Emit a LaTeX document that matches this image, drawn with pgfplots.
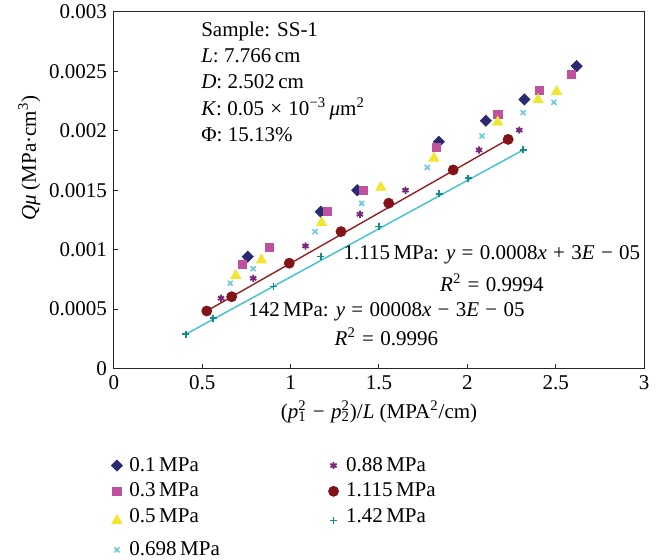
\documentclass[border=0pt]{standalone}
\usepackage{fontspec}
\setmainfont{Liberation Serif}
\usepackage{pgfplots}
\pgfplotsset{compat=1.18}
\usetikzlibrary{calc}

\definecolor{cNavy}{RGB}{42,42,112}
\definecolor{cPink}{RGB}{192,80,160}
\definecolor{cYellow}{RGB}{240,230,50}
\definecolor{cCyan}{RGB}{110,200,220}
\definecolor{cPurple}{RGB}{120,40,120}
\definecolor{cRed}{RGB}{130,20,25}
\definecolor{cRedLine}{RGB}{150,30,35}
\definecolor{cTeal}{RGB}{20,140,140}
\definecolor{cTealLine}{RGB}{60,195,205}

\newcommand{\op}[1]{\hspace{0.3em}#1\hspace{0.3em}}

\begin{document}
\begin{tikzpicture}[font=\fontsize{10.5}{12.6}\selectfont]
\begin{axis}[
  scale only axis,
  width=265pt,
  height=178.25pt,
  xmin=0, xmax=3,
  ymin=0, ymax=0.003,
  xtick={0,0.5,1,1.5,2,2.5,3},
  xticklabels={0,0.5,1,1.5,2,2.5,3},
  ytick={0,0.0005,0.001,0.0015,0.002,0.0025,0.003},
  yticklabels={0,0.0005,0.001,0.0015,0.002,0.0025,0.003},
  scaled y ticks=false,
  scaled x ticks=false,
  tick pos=left,
  tick align=inside,
  major tick length=2pt,
  axis line style={black!85, line width=0.5pt},
  tick style={black!85, line width=0.5pt},
  /pgf/number format/assume math mode=true,
  xlabel={(\textit{p}\makebox[0pt][l]{\textsuperscript{2}}\textsubscript{1}\op{−}\textit{p}\makebox[0pt][l]{\textsuperscript{2}}\textsubscript{2})/\textit{L} (MPA\textsuperscript{2}/cm)},
  ylabel={\textit{Qμ} (MPa·cm\textsuperscript{3})},
  every axis x label/.style={at={(axis description cs:0.5,-0.122)}, anchor=center},
  every axis y label/.style={at={(axis description cs:-0.16,0.59)}, rotate=90, anchor=center},
  legend columns=4,
  transpose legend,
  legend cell align=left,
  legend image code/.code={\path[draw=none,fill=none] (0cm,0cm) (0.25cm,0cm); \draw[#1] plot coordinates {(0.1cm,0cm)};},
  legend style={draw=none, fill=none, at={(axis description cs:-0.006,-0.235)}, anchor=north west,
    row sep=0pt, inner sep=0pt, nodes={inner ysep=2.2pt},
    /tikz/column 2/.style={column sep=52pt},
    /tikz/row 3/.style={nodes={text depth=5pt}}},
]
\coordinate (SW) at (rel axis cs:0,0);

% trend lines
\addplot[forget plot, cRedLine, line width=0.7pt] coordinates {(0.525,0.000484) (2.231,0.001928)};
\addplot[forget plot, cTealLine, line width=0.7pt] coordinates {(0.406,0.000288) (2.316,0.001839)};

\addplot[only marks, mark=square*, mark size=1.95pt, mark options={rotate=45, draw=cNavy, fill=cNavy}] coordinates {
(0.757,0.000941) (1.170,0.001320) (1.377,0.001500) (1.839,0.001908) (2.105,0.002085) (2.323,0.002264) (2.619,0.002545)};
\addlegendentry{0.1\,MPa}

\addplot[only marks, mark=square*, mark size=2.1pt, mark options={draw=cPink, fill=cPink}] coordinates {
(0.726,0.000874) (0.879,0.001020) (1.207,0.001320) (1.411,0.001500) (1.825,0.001860) (2.172,0.002140) (2.407,0.002340) (2.588,0.002476)};
\addlegendentry{0.3\,MPa}

\addplot[only marks, mark=triangle*, mark size=2.9pt, mark options={draw=cYellow, fill=cYellow}] coordinates {
(0.689,0.000781) (0.834,0.000913) (1.175,0.001227) (1.510,0.001524) (1.811,0.001769) (2.172,0.002073) (2.400,0.002262) (2.505,0.002329)};
\addlegendentry{0.5\,MPa}

\addplot[only marks, mark=x, mark size=1.75pt, mark options={draw=cCyan, line width=0.8pt}] coordinates {
(0.658,0.000717) (0.788,0.000840) (1.138,0.001152) (1.402,0.001390) (1.773,0.001692) (2.083,0.001957) (2.316,0.002153) (2.490,0.002239)};
\addlegendentry{0.698\,MPa}

\addplot[only marks, mark=asterisk, mark size=1.8pt, mark options={draw=cPurple, line width=0.9pt}] coordinates {
(0.606,0.000591) (0.788,0.000759) (1.084,0.001031) (1.392,0.001298) (1.650,0.001500) (2.066,0.001839) (2.294,0.002006)};
\addlegendentry{0.88\,MPa}

\addplot[only marks, mark=*, mark size=2.5pt, mark options={draw=cRed, fill=cRed}] coordinates {
(0.525,0.000484) (0.666,0.000604) (0.992,0.000886) (1.285,0.001152) (1.555,0.001391) (1.920,0.001671) (2.231,0.001928)};
\addlegendentry{1.115\,MPa}

\addplot[only marks, mark=+, mark size=1.75pt, mark options={draw=cTeal, line width=0.8pt}] coordinates {
(0.406,0.000288) (0.562,0.000423) (0.902,0.000689) (1.171,0.000941) (1.500,0.001194) (1.841,0.001469) (2.005,0.001601) (2.316,0.001839)};
\addlegendentry{1.42\,MPa}

\node[anchor=north west, align=left, inner sep=0pt, font=\fontsize{10.5}{13.1}\selectfont] at (axis cs:0.492,0.00292)
  {Sample: SS-1\\\textit{L}: 7.766\,cm\\\textit{D}: 2.502\,cm\\\textit{K}: 0.05\op{×}10\textsuperscript{−3}\,\textit{μ}m\textsuperscript{2}\\Φ: 15.13\%};
\node[anchor=center, inner sep=0pt] at (axis cs:2.139,0.000955) {1.115\,MPa: \textit{y}\op{=}0.0008\textit{x}\op{+}3\textit{E}\op{−}05};
\node[anchor=center, inner sep=0pt] at (axis cs:2.139,0.000720) {\textit{R}\textsuperscript{2}\op{=}0.9994};
\node[anchor=center, inner sep=0pt] at (axis cs:1.542,0.000476) {142\,MPa: \textit{y}\op{=}00008\textit{x}\op{−}3\textit{E}\op{−}05};
\node[anchor=center, inner sep=0pt] at (axis cs:1.542,0.000265) {\textit{R}\textsuperscript{2}\op{=}0.9996};
\end{axis}
\pgfresetboundingbox
\path ($(SW)+(-57pt,-95.75pt)$) rectangle ($(SW)+(272.5pt,184.25pt)$);
\end{tikzpicture}
\end{document}
